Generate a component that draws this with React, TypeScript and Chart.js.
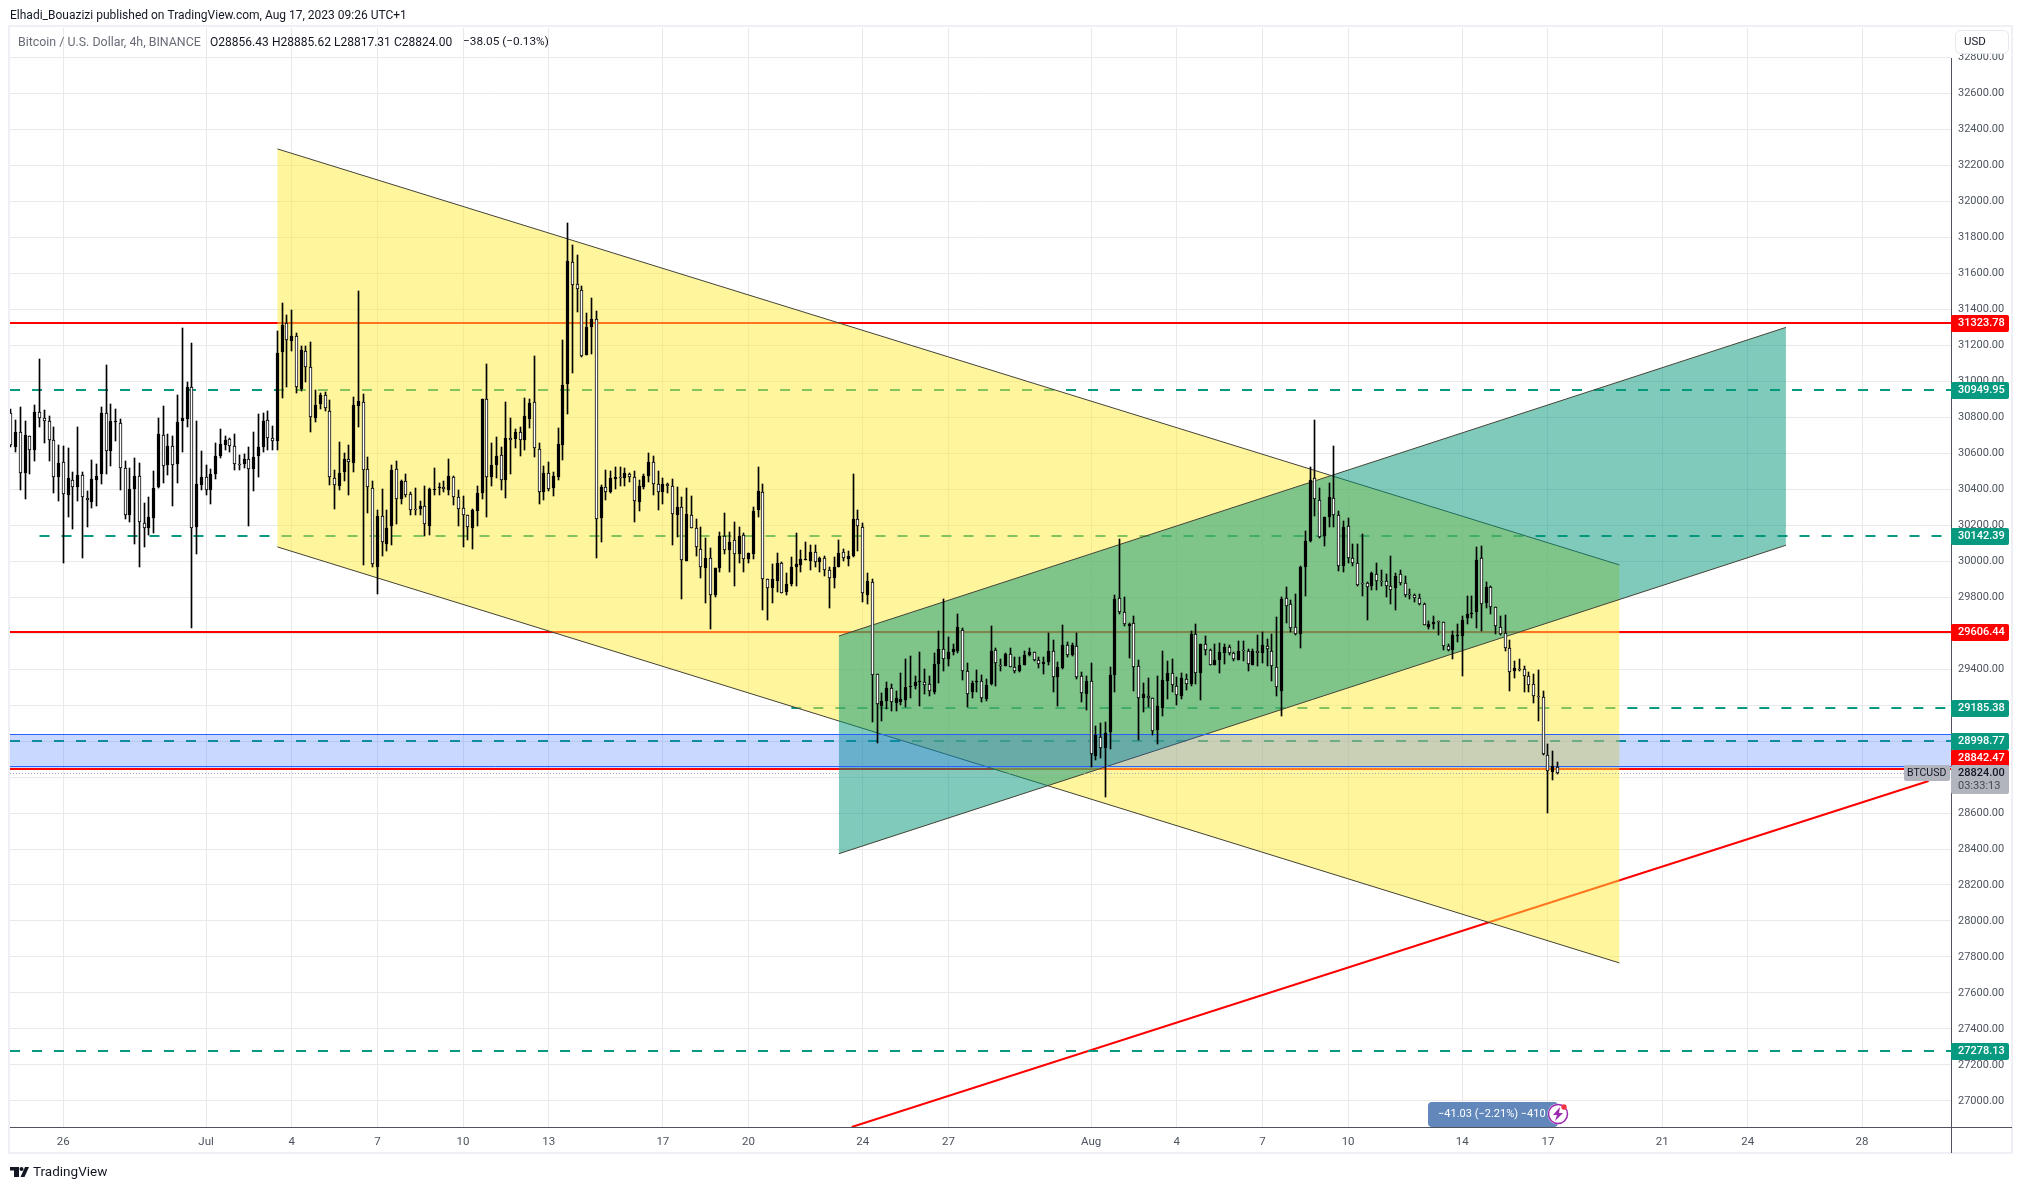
import { useEffect, useRef } from "react";
import { Chart, registerables } from "chart.js";
Chart.register(...registerables);

const FONT = "Roboto";
const firstBar = -11;

// 4h candles
const opens = [
  30822,30637,30717,30489,30695,30617,30828,30795,30778,30672,30467,30550,30367,30450,30411,30478,30350,30326,30450,30483,
  30822,30611,30772,30767,30517,30256,30400,30472,30211,30183,30239,30413,30700,30532,30639,30539,30778,30789,30967,30187,
  30422,30467,30395,30487,30583,30648,30676,30639,30541,30539,30567,30511,30583,30633,30783,30683,30665,31161,31322,31222,
  31250,30956,31167,31078,30795,30876,30922,30833,30461,30415,30498,30567,30548,30861,30883,30511,30406,29970,30250,30094,
  30193,30511,30348,30445,30372,30289,30287,30306,30198,30398,30406,30411,30398,30470,30359,30294,30254,30183,30281,30378,
  30900,30467,30537,30588,30453,30683,30681,30716,30672,30792,30883,30622,30383,30488,30409,30470,30648,30983,31661,31539,
  31505,31148,31303,31344,30237,30411,30383,30459,30468,30464,30483,30466,30331,30413,30472,30550,30427,30383,30427,30416,
  30259,30300,30000,30255,30183,30066,29964,30016,29814,29961,30138,30061,30116,30042,30144,30014,30042,30283,30383,29900,
  29850,29887,29988,29831,29872,29970,29981,30005,30003,30050,29994,30016,29953,29909,29970,30048,30011,30027,30233,30188,
  29809,29883,29370,29196,29222,29294,29209,29215,29229,29298,29307,29328,29326,29317,29274,29429,29511,29454,29496,29502,
  29617,29389,29270,29326,29333,29235,29315,29505,29422,29418,29483,29411,29389,29420,29481,29494,29450,29426,29437,29500,
  29354,29407,29533,29476,29528,29361,29259,29333,28918,29022,28961,29048,29367,29794,29715,29642,29655,29415,29239,29250,
  29239,29059,29183,29331,29378,29305,29252,29344,29315,29594,29376,29539,29505,29420,29448,29491,29524,29489,29452,29502,
  29500,29422,29500,29492,29528,29500,29413,29279,29794,29761,29632,29595,29965,30111,30461,30339,30137,30243,30350,30254,
  29971,30195,30015,29989,29880,29878,29861,29928,29891,29889,29861,29850,29928,29878,29813,29809,29795,29761,29635,29648,
  29661,29661,29526,29508,29582,29582,29682,29704,29715,30015,29765,29856,29745,29633,29598,29517,29387,29398,29400,29361,
  29315,29250,29245,28920,28826,28856.43,
];
const highs = [
  30846,30785,30854,30780,30696,30867,31122,30839,30807,30746,30646,30641,30630,30495,30746,30495,30391,30563,30541,30856,
  31091,30874,30846,30789,30556,30517,30572,30543,30322,30357,30500,30796,30861,30704,30696,30922,31295,30995,31211,30778,
  30611,30535,30511,30656,30733,30695,30683,30706,30591,30596,30633,30719,30819,30824,30832,30750,31278,31433,31369,31396,
  31267,31195,31193,31217,30952,30933,30939,30896,30507,30661,30602,30646,30913,31502,30928,30578,30445,30285,30400,30285,
  30533,30556,30450,30485,30382,30406,30333,30419,30406,30519,30433,30443,30569,30472,30395,30363,30256,30289,30420,30902,
  31095,30656,30691,30637,30885,30796,30733,30744,30907,30900,31140,30655,30529,30550,30498,30738,31227,31877,31755,31702,
  31529,31377,31461,31390,30422,30505,30500,30522,30522,30516,30492,30500,30450,30483,30600,30583,30500,30461,30433,30455,
  30413,30359,30405,30363,30233,30188,30127,30072,29964,30164,30266,30161,30216,30188,30155,30044,30300,30522,30427,29903,
  29985,30044,29994,29933,30022,30155,30061,30105,30092,30088,30025,30029,29970,30025,30116,30068,30057,30485,30283,30211,
  29933,29900,29372,29267,29328,29317,29279,29378,29455,29474,29361,29496,29400,29363,29489,29609,29789,29580,29541,29705,
  29631,29433,29335,29394,29367,29344,29639,29515,29455,29492,29518,29465,29468,29500,29518,29496,29468,29465,29598,29561,
  29437,29644,29548,29546,29600,29383,29363,29433,29085,29098,29107,29413,29813,30122,29802,29655,29696,29452,29322,29350,
  29242,29359,29502,29446,29454,29354,29376,29372,29611,29650,29542,29583,29511,29542,29544,29539,29533,29494,29554,29554,
  29511,29509,29589,29605,29567,29594,29687,29798,29857,29785,29817,29974,30169,30524,30785,30406,30246,30434,30641,30280,
  30224,30241,30095,30095,30150,29882,29939,29989,29952,29930,30030,29933,29952,29919,29846,29820,29819,29765,29669,29696,
  29669,29663,29539,29613,29650,29696,29808,29808,30080,30085,29884,29863,29745,29696,29702,29561,29445,29456,29415,29382,
  29372,29396,29280,28983,28946,28885.62,
];
const lows = [
  30632,30604,30393,30348,30482,30554,30743,30654,30557,30376,30332,29987,30248,30176,30332,30015,30187,30295,30309,30426,
  30487,30526,30665,30396,30232,30215,30093,29965,30076,30143,30156,30409,30432,30476,30309,30432,30604,30748,29631,30037,
  30393,30365,30315,30454,30572,30619,30609,30504,30504,30515,30193,30387,30465,30609,30620,30615,30615,30909,30970,31170,
  30932,30948,30993,30715,30776,30848,30832,30424,30287,30393,30446,30369,30493,30743,29976,30265,29970,29815,30026,30054,
  30091,30209,30320,30354,30254,30254,30257,30137,30143,30365,30365,30383,30365,30313,30198,30076,30120,30070,30198,30348,
  30248,30420,30461,30396,30353,30487,30627,30587,30618,30742,30581,30320,30340,30387,30364,30453,30564,30820,31048,31387,
  31137,31144,31150,30020,30109,30342,30377,30403,30420,30420,30442,30220,30281,30403,30438,30370,30285,30320,30377,30087,
  30133,29792,30000,30183,30031,29909,29770,29625,29798,29942,30038,29937,29859,29992,29942,29987,30014,30244,29731,29675,
  29766,29831,29822,29813,29859,29864,29942,30005,29953,29970,29938,29916,29742,29848,29970,30001,29975,30025,30059,29772,
  29764,29104,28987,29113,29178,29165,29168,29200,29191,29242,29292,29196,29261,29248,29261,29320,29387,29415,29476,29489,
  29337,29192,29237,29274,29215,29224,29313,29304,29391,29415,29409,29376,29385,29420,29474,29446,29405,29370,29422,29274,
  29196,29398,29468,29470,29344,29218,29172,28854,28896,28905,28687,28954,29274,29707,29637,29459,29276,29004,29159,29187,
  29033,28983,29137,29233,29274,29198,29233,29285,29307,29318,29229,29479,29420,29420,29376,29429,29478,29446,29450,29446,
  29391,29420,29418,29435,29418,29335,29248,29137,29654,29607,29591,29519,29808,30109,30252,30130,30085,30191,30191,29946,
  29941,29989,29971,29859,29804,29674,29841,29841,29863,29802,29763,29726,29867,29798,29789,29771,29758,29643,29620,29620,
  29591,29508,29502,29454,29548,29359,29648,29685,29626,29609,29739,29706,29595,29591,29502,29276,29348,29391,29270,29274,
  29209,29113,28924,28598,28782,28817.31,
];
const closes = [
  30643,30717,30489,30700,30617,30828,30795,30778,30672,30467,30545,30372,30461,30411,30478,30356,30339,30456,30472,30822,
  30611,30778,30778,30517,30256,30400,30472,30217,30183,30244,30406,30706,30528,30639,30532,30772,30795,30967,30183,30428,
  30467,30395,30483,30583,30650,30672,30639,30539,30537,30567,30511,30578,30633,30778,30683,30667,31156,31311,31228,31250,
  30967,31172,31078,30800,30867,30922,30850,30467,30422,30489,30567,30550,30867,30889,30504,30411,29983,30250,30109,30183,
  30506,30344,30445,30370,30283,30285,30306,30204,30400,30402,30411,30400,30472,30356,30289,30256,30189,30283,30378,30900,
  30467,30533,30583,30453,30683,30672,30716,30672,30805,30879,30627,30383,30488,30403,30472,30650,30977,31666,31533,31511,
  31140,31300,31344,30233,30411,30383,30461,30468,30464,30488,30466,30333,30416,30472,30550,30431,30383,30427,30416,30261,
  30300,30009,30261,30183,30077,29970,30016,29814,29961,30138,30062,30105,30042,30138,30014,30044,30277,30388,29903,29850,
  29900,29988,29825,29872,29966,29983,30011,30011,30050,29994,30016,29950,29905,29970,30044,30016,30027,30233,30194,29824,
  29887,29367,29205,29222,29294,29215,29239,29233,29302,29305,29328,29333,29311,29276,29428,29511,29454,29496,29511,29633,
  29389,29261,29322,29333,29242,29313,29500,29433,29418,29483,29411,29387,29422,29478,29496,29450,29426,29441,29500,29354,
  29411,29533,29479,29535,29354,29267,29333,28928,29035,28961,29044,29367,29789,29715,29648,29650,29411,29239,29261,29239,
  29054,29194,29339,29378,29311,29254,29350,29315,29594,29381,29539,29505,29422,29450,29494,29524,29487,29454,29502,29498,
  29428,29500,29487,29533,29511,29417,29298,29789,29750,29631,29595,29969,30113,30452,30343,30132,30243,30356,30254,29971,
  30191,30015,29989,29865,29872,29856,29933,29889,29885,29861,29839,29917,29878,29809,29809,29795,29761,29645,29650,29661,
  29659,29528,29508,29589,29589,29672,29706,29711,30006,29761,29856,29745,29639,29595,29515,29383,29406,29395,29361,29311,
  29250,29243,28928,28833,28861,28824.0,
];

// levels and drawings, in price and bar numbers
const redLevels = [31323.78, 29606.44, 28842.47];
const dashedLevels = [30949.95, 30142.39, 29185.38, 28998.77, 27278.13];
const dashedStartBars = [-11.2, -5, 153, -11.2, -11.2];
const lastPrice = 28821;
const trendLine = [{ x: 165.7, y: 26855 }, { x: 392, y: 28778 }];
const yellowChannel = [{ x: 45, y: 32291 }, { x: 327, y: 29979 }, { x: 327, y: 27767 }, { x: 45, y: 30079 }];
const tealChannel = [{ x: 163, y: 29584 }, { x: 362, y: 31299 }, { x: 362, y: 30088 }, { x: 163, y: 28374 }];
const blueZone = [29039, 28850];

const xTickBars = [0, 30, 48, 66, 84, 102, 126, 144, 168, 186, 216, 234, 252, 270, 294, 312, 336, 354, 378];
const xTickLabels = ["26", "Jul", "4", "7", "10", "13", "17", "20", "24", "27", "Aug", "4", "7", "10", "14", "17", "21", "24", "28"];
const yTicks = [27000, 27200, 27400, 27600, 27800, 28000, 28200, 28400, 28600, 28800, 29000, 29200, 29400, 29600, 29800, 30000,
  30200, 30400, 30600, 30800, 31000, 31200, 31400, 31600, 31800, 32000, 32200, 32400, 32600, 32800];

const xMin = -11.2, xMax = 396.7, yMin = 26855, yMax = 32963;
const bars = opens.map((_, i) => firstBar + i);

function hline(price: number, from: number, color: string, width: number, dash: number[], order: number, snap = 0) {
  return {
    type: "line", data: [{ x: from, y: price }, { x: xMax, y: price }], borderColor: color, borderWidth: width,
    borderDash: dash, pointRadius: 0, order, fill: false, snap,
  };
}
function edge(a: { x: number; y: number }, b: { x: number; y: number }, order: number) {
  return { type: "line", data: [a, b], borderColor: "#434336", borderWidth: 1, pointRadius: 0, order, fill: false };
}
function shape(points: { x: number; y: number }[], color: string, order: number) {
  return { type: "line", data: points, backgroundColor: color, borderWidth: 0, borderColor: "transparent", pointRadius: 0, order, fill: "shape" };
}

function box(ctx: CanvasRenderingContext2D, x: number, y: number, w: number, h: number, r: number, color: string) {
  ctx.fillStyle = color;
  ctx.beginPath();
  ctx.roundRect(x, y, w, h, r);
  ctx.fill();
}
function label(ctx: CanvasRenderingContext2D, s: string, x: number, y: number, size: number, color: string, weight = "400") {
  ctx.font = `${weight} ${size}px ${FONT}`;
  ctx.fillStyle = color;
  ctx.textAlign = "left";
  ctx.textBaseline = "middle";
  ctx.fillText(s, x, y);
}

const snapPlugin = {
  id: "snap",
  beforeDatasetsDraw(chart: any) {
    chart.getSortedVisibleDatasetMetas().forEach((meta: any) => {
      if (meta.type === "bar") {
        meta.data.forEach((el: any) => {
          el.x = Math.floor(el.x) + 0.5;
          el.y = Math.round(el.y);
          el.base = Math.round(el.base);
        });
      }
      const snap = (chart.data.datasets[meta.index] as any).snap;
      if (meta.type === "line" && snap !== undefined) {
        meta.data.forEach((el: any) => { el.y = Math.round(el.y) + snap; });
      }
    });
  },
};

const framePlugin = {
  id: "frame",
  beforeDraw(chart: any) {
    const { ctx } = chart;
    ctx.save();
    ctx.fillStyle = "#ffffff";
    ctx.fillRect(0, 0, 2023, 1189);
    ctx.strokeStyle = "#eef0f6";
    ctx.lineWidth = 2;
    ctx.strokeRect(9, 26, 2003, 1127);
    ctx.restore();
  },
  afterDraw(chart: any) {
    const { ctx, scales } = chart;
    const y = scales.y;
    const right = chart.chartArea.right;
    const bottom = chart.chartArea.bottom;
    ctx.save();
    ctx.fillStyle = "#50535e";
    ctx.fillRect(right, 58, 1, 1095);
    ctx.fillRect(10, bottom, 2002, 1);

    // published line, symbol line
    label(ctx, "Elhadi_Bouazizi published on TradingView.com, Aug 17, 2023 09:26 UTC+1", 10, 16, 12, "#131722");
    label(ctx, "Bitcoin / U.S. Dollar, 4h, BINANCE", 18, 42.5, 12.4, "#6a6d78");
    label(ctx, "O28856.43", 210, 42.5, 12, "#131722");
    label(ctx, "H28885.62", 272, 42.5, 12, "#131722");
    label(ctx, "L28817.31", 334, 42.5, 12, "#131722");
    label(ctx, "C28824.00", 394, 42.5, 12, "#131722");
    label(ctx, "−38.05 (−0.13%)", 463, 42.5, 11.8, "#131722");

    // currency box
    box(ctx, 1955, 30, 54, 24, 5, "#ffffff");
    ctx.strokeStyle = "#e6e8f0";
    ctx.lineWidth = 1;
    ctx.beginPath();
    ctx.roundRect(1955.5, 30.5, 53, 23, 5);
    ctx.stroke();
    label(ctx, "USD", 1964, 42, 11.5, "#131722");

    // price labels on the axis
    dashedLevels.forEach((p) => {
      const py = Math.round(y.getPixelForValue(p));
      box(ctx, right, py - 8, 58, 17, 2, "#089981");
      label(ctx, p.toFixed(2), right + 7, py + 0.5, 11, "#ffffff", "500");
    });
    redLevels.forEach((p, i) => {
      const py = Math.round(y.getPixelForValue(p)) - (i === 2 ? 11 : 0);
      box(ctx, right, py - 8, 58, 17, 2, "#ff0000");
      label(ctx, p.toFixed(2), right + 7, py + 0.5, 11, "#ffffff", "500");
    });
    box(ctx, right, 765, 58, 29, 2, "#b2b5be");
    label(ctx, "28824.00", right + 7, 773, 11, "#131722", "500");
    label(ctx, "03:33:13", right + 7, 786, 11, "#45484f");
    box(ctx, 1904, 765, 46, 16, 2, "#b2b5be");
    label(ctx, "BTCUSD", 1907, 773.5, 10.5, "#131722");

    // alert badge
    box(ctx, 1428, 1102, 130, 25, 4, "#6287bb");
    label(ctx, "−41.03 (−2.21%) −410", 1438, 1114.5, 11, "#ffffff");
    ctx.fillStyle = "#ffffff";
    ctx.beginPath();
    ctx.arc(1558, 1114, 10.5, 0, Math.PI * 2);
    ctx.fill();
    ctx.strokeStyle = "#9c27b0";
    ctx.lineWidth = 1.5;
    ctx.beginPath();
    ctx.arc(1558, 1114, 9.5, 0, Math.PI * 2);
    ctx.stroke();
    ctx.fillStyle = "#9c27b0";
    ctx.beginPath();
    ctx.moveTo(1560, 1107);
    ctx.lineTo(1553, 1115);
    ctx.lineTo(1557, 1115);
    ctx.lineTo(1555, 1121);
    ctx.lineTo(1563, 1113);
    ctx.lineTo(1559, 1113);
    ctx.closePath();
    ctx.fill();
    ctx.fillStyle = "#f23645";
    ctx.beginPath();
    ctx.arc(1564, 1107, 2.7, 0, Math.PI * 2);
    ctx.fill();

    // footer logo and name
    ctx.fillStyle = "#131722";
    ctx.fillRect(10, 1167, 9, 3.5);
    ctx.fillRect(14, 1167, 5, 10);
    ctx.beginPath();
    ctx.arc(21.5, 1169, 2, 0, Math.PI * 2);
    ctx.fill();
    ctx.beginPath();
    ctx.moveTo(25, 1167);
    ctx.lineTo(29, 1167);
    ctx.lineTo(24.5, 1177);
    ctx.lineTo(20.5, 1177);
    ctx.closePath();
    ctx.fill();
    label(ctx, "TradingView", 33, 1172.5, 13.5, "#131722");
    ctx.restore();
  },
};

export default function App() {
  const ref = useRef<HTMLCanvasElement>(null);

  useEffect(() => {
    document.body.style.margin = "0";
    if (!ref.current) return;
    const wicks = bars.map((x, i) => ({ x, y: [lows[i], highs[i]] }));
    const bodies = bars.map((x, i) => ({ x, y: [opens[i], closes[i]] }));
    const chart = new Chart(ref.current, {
      type: "bar",
      data: {
        datasets: [
          ...redLevels.map((p) => hline(p, xMin, "#ff0000", 2, [], 20, 0)),
          ...dashedLevels.map((p, i) => hline(p, dashedStartBars[i], "#089981", 2, [10, 12], 20, 0)),
          { type: "line", data: trendLine, borderColor: "#ff0000", borderWidth: 2, pointRadius: 0, order: 20, fill: false },
          shape(yellowChannel, "rgba(255,235,59,0.5)", 15),
          edge(yellowChannel[0], yellowChannel[1], 14),
          edge(yellowChannel[3], yellowChannel[2], 14),
          shape(tealChannel, "rgba(0,150,120,0.5)", 12),
          edge(tealChannel[0], tealChannel[1], 11),
          edge(tealChannel[3], tealChannel[2], 11),
          shape([{ x: xMin, y: blueZone[0] }, { x: xMax, y: blueZone[0] }, { x: xMax, y: blueZone[1] }, { x: xMin, y: blueZone[1] }], "rgba(41,98,255,0.25)", 9),
          hline(blueZone[0], xMin, "#2962ff", 1, [], 8, 0.5),
          hline(blueZone[1], xMin, "#2962ff", 1, [], 8, -1.5),
          hline(lastPrice, xMin, "#a9acc0", 1, [1, 2], 7, 0.5),
          {
            type: "bar", data: wicks, backgroundColor: "#000000", barThickness: 1, grouped: false, order: 3,
          },
          {
            type: "bar", data: bodies, grouped: false, order: 2, barThickness: 3, minBarLength: 1,
            backgroundColor: bars.map((_, i) => (closes[i] >= opens[i] ? "#000000" : "#ffffff")),
            borderColor: "#000000", borderWidth: 1, borderSkipped: false,
          },
        ] as any,
      },
      options: {
        animation: false,
        responsive: false,
        devicePixelRatio: 1,
        layout: { padding: { left: 10, top: 28, right: 11, bottom: 35 } },
        plugins: { legend: { display: false }, tooltip: { enabled: false }, title: { display: false } },
        scales: {
          x: {
            type: "linear", offset: false, min: xMin, max: xMax,
            grid: { color: "#e9e9ec", lineWidth: 1, drawTicks: false, offset: false },
            border: { display: false },
            afterBuildTicks: (s: any) => { s.ticks = xTickBars.map((value) => ({ value })); },
            afterFit: (s: any) => { s.height = 27; },
            ticks: {
              autoSkip: false, maxRotation: 0, padding: 8, color: "#4c525e",
              font: { family: FONT, size: 11.5 },
              callback: (v: any) => xTickLabels[xTickBars.indexOf(Number(v))],
            },
          },
          y: {
            position: "right", min: yMin, max: yMax,
            grid: { color: "#e9e9ec", lineWidth: 1, drawTicks: false },
            border: { display: false },
            afterBuildTicks: (s: any) => { s.ticks = yTicks.map((value) => ({ value })); },
            afterFit: (s: any) => { s.width = 61; },
            ticks: {
              autoSkip: false, padding: 7, color: "#4c525e",
              font: { family: FONT, size: 11 },
              callback: (v: any) => Number(v).toFixed(2),
            },
          },
        },
      },
      plugins: [snapPlugin, framePlugin],
    } as any);
    return () => chart.destroy();
  }, []);

  return (
    <div style={{ width: 2023, height: 1189 }}>
      <canvas ref={ref} width={2023} height={1189} style={{ display: "block" }} />
    </div>
  );
}
